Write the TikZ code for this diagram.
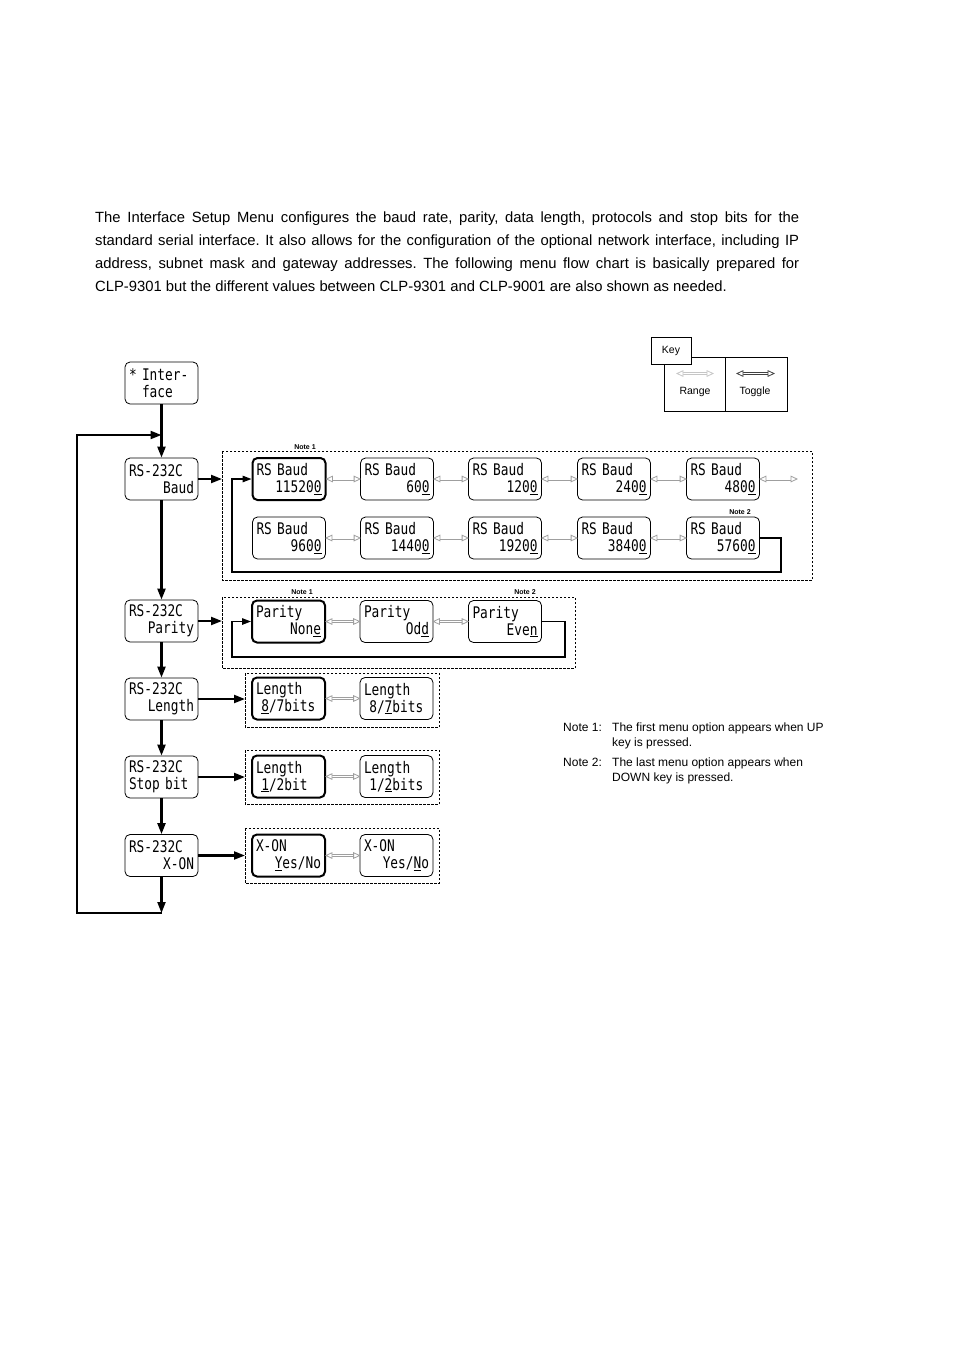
\documentclass[tikz,border=0pt]{standalone}
\usepackage{fontspec}
\setmainfont{Liberation Sans}
\newfontfamily\lcdfont[FakeStretch=0.8]{DejaVu Sans Mono}
\usetikzlibrary{arrows.meta}
\tikzset{
 lcd/.style={draw, rounded corners=5pt, line width=0.8pt, minimum width=73pt, minimum height=42pt,
   text width=65pt, inner xsep=4pt, inner ysep=2pt, align=left, font=\lcdfont\fontsize{16}{17}\selectfont},
 sel/.style={lcd, line width=2pt},
 grp/.style={draw, dash pattern=on 2.5pt off 1.5pt, line width=0.7pt},
 togshaft/.style={line width=0.8pt, double=white, double distance=1.4pt},
 togtip/.style={line width=0.8pt, fill=white, line join=miter},
 flow/.style={line width=2.1pt, -{Triangle[length=11pt,width=8pt]}},
 loopar/.style={line width=1.3pt, -{Triangle[length=9pt,width=6.5pt]}},
 notelbl/.style={font=\bfseries\fontsize{7}{8}\selectfont, inner sep=0pt},
 small/.style={font=\fontsize{12}{14}\selectfont, inner sep=0pt, anchor=base west},
 keytxt/.style={font=\fontsize{10.5}{12}\selectfont, inner sep=0pt},
}
\newcommand{\rt}[1]{\leavevmode\hfill #1}
\newcommand{\togarrow}[3][gray!75]{%
 \draw[togshaft, draw=#1] ([xshift=5.5pt]#2) -- ([xshift=-5.5pt]#3);
 \draw[togtip, draw=#1] (#2) -- ([xshift=6pt,yshift=2.8pt]#2) -- ([xshift=6pt,yshift=-2.8pt]#2) -- cycle;
 \draw[togtip, draw=#1] (#3) -- ([xshift=-6pt,yshift=2.8pt]#3) -- ([xshift=-6pt,yshift=-2.8pt]#3) -- cycle;}
\begin{document}
\begin{tikzpicture}[x=1pt,y=-1pt]
\useasboundingbox (0,0) rectangle (954,1350);
\fill[white] (0,0) rectangle (954,1350);

% paragraph
\node[anchor=north west, inner sep=0pt, text width=704pt, align=justify,
  font=\fontsize{14.8}{23}\selectfont] (para) at (95,212)
 {\frenchspacing The Interface Setup Menu configures the baud rate, parity, data length, protocols and stop bits for the\linebreak
 standard serial interface. It also allows for the configuration of the optional network interface, including IP\linebreak
 address, subnet mask and gateway addresses. The following menu flow chart is basically prepared for\linebreak
 CLP-9301 but the different values between CLP-9301 and CLP-9001 are also shown as needed.};

% key
\draw[line width=0.8pt] (664,357) rectangle (787,411);
\draw[line width=0.8pt] (725,357) -- (725,411);
\node[draw, fill=white, line width=0.8pt, minimum width=40pt, minimum height=27pt, keytxt] (key) at (671,350.5) {Key};
\coordinate (ra1) at (677,373.5); \coordinate (ra2) at (713,373.5);
\coordinate (ta1) at (737,373.5); \coordinate (ta2) at (774,373.5);
\togarrow[gray!45]{ra1}{ra2}
\togarrow[black!75]{ta1}{ta2}
\node[keytxt] (range) at (695,392) {Range};
\node[keytxt] (toggle) at (755,392) {Toggle};

% left column
\node[lcd] (iface) at (161.5,383) {* Inter-\\\phantom{* }face};
\node[lcd] (lb) at (161.5,479) {RS-232C\\\rt{Baud}};
\node[lcd] (lp) at (161.5,621) {RS-232C\\\rt{Parity}};
\node[lcd] (ll) at (161.5,699) {RS-232C\\\rt{Length}};
\node[lcd] (ls) at (161.5,777) {RS-232C\\Stop bit};
\node[lcd] (lx) at (161.5,855.5) {RS-232C\\\rt{X-ON}};

\draw[flow] (iface.south) -- (lb.north);
\draw[flow] (lb.south) -- (lp.north);
\draw[flow] (lp.south) -- (ll.north);
\draw[flow] (ll.south) -- (ls.north);
\draw[flow] (ls.south) -- (lx.north);
\coordinate (bot) at (161.5,913);
\coordinate (botL) at (77,913);
\coordinate (topL) at (77,435);
\coordinate (topR) at (161.5,435);
\draw[flow] (lx.south) -- (bot);
\draw[flow] (bot) -- (botL) -- (topL) -- (topR);

% groups
\draw[grp] (222,451) rectangle (812,580);
\draw[grp] (222,597) rectangle (575,668);
\draw[grp] (245,673) rectangle (439,727);
\draw[grp] (245,750) rectangle (439,804);
\draw[grp] (245,828) rectangle (439,883);

\coordinate (gb) at (222,479);
\coordinate (gp) at (222,621);
\coordinate (gl) at (245,699);
\coordinate (gs) at (245,777);
\coordinate (gx) at (245,855.5);
\draw[flow] (lb.east) -- (gb);
\draw[flow] (lp.east) -- (gp);
\draw[flow] (ll.east) -- (gl);
\draw[flow] (ls.east) -- (gs);
\draw[flow] (lx.east) -- (gx);

% baud
\node[sel] (b1) at (289,479) {RS Baud\\\rt{11520\underline{0}}};
\node[lcd] (b2) at (397,479) {RS Baud\\\rt{60\underline{0}}};
\node[lcd] (b3) at (505,479) {RS Baud\\\rt{120\underline{0}}};
\node[lcd] (b4) at (614,479) {RS Baud\\\rt{240\underline{0}}};
\node[lcd] (b5) at (723,479) {RS Baud\\\rt{480\underline{0}}};
\node[lcd] (b6) at (289,538) {RS Baud\\\rt{960\underline{0}}};
\node[lcd] (b7) at (397,538) {RS Baud\\\rt{1440\underline{0}}};
\node[lcd] (b8) at (505,538) {RS Baud\\\rt{1920\underline{0}}};
\node[lcd] (b9) at (614,538) {RS Baud\\\rt{3840\underline{0}}};
\node[lcd] (b10) at (723,538) {RS Baud\\\rt{5760\underline{0}}};
\node[notelbl] (bn1) at (305,447) {Note 1};
\node[notelbl] (bn2) at (740,512) {Note 2};
\togarrow{b1.east}{b2.west}
\togarrow{b2.east}{b3.west}
\togarrow{b3.east}{b4.west}
\togarrow{b4.east}{b5.west}
\coordinate (bend) at (797,479);
\togarrow{b5.east}{bend}
\togarrow{b6.east}{b7.west}
\togarrow{b7.east}{b8.west}
\togarrow{b8.east}{b9.west}
\togarrow{b9.east}{b10.west}
\coordinate (bl1) at (781,538);
\coordinate (bl2) at (781,572);
\coordinate (bl3) at (232,572);
\coordinate (bl4) at (232,479);
\draw[loopar] (b10.east) -- (bl1) -- (bl2) -- (bl3) -- (bl4) -- (b1.west);

% parity
\node[sel] (p1) at (288.5,621.5) {Parity\\\rt{Non\underline{e}}};
\node[lcd] (p2) at (396.5,621.5) {Parity\\\rt{Od\underline{d}}};
\node[lcd] (p3) at (505,621.5) {Parity\\\rt{Eve\underline{n}}};
\node[notelbl] (pn1) at (302,592) {Note 1};
\node[notelbl] (pn2) at (525,592) {Note 2};
\togarrow{p1.east}{p2.west}
\togarrow{p2.east}{p3.west}
\coordinate (pl1) at (565,621.5);
\coordinate (pl2) at (565,657);
\coordinate (pl3) at (232,657);
\coordinate (pl4) at (232,621.5);
\draw[loopar] (p3.east) -- (pl1) -- (pl2) -- (pl3) -- (pl4) -- (p1.west);

% length
\node[sel] (l1) at (288.5,698.5) {Length\\\ \underline{8}/7bits};
\node[lcd] (l2) at (396.5,698.5) {Length\\\ 8/\underline{7}bits};
\togarrow{l1.east}{l2.west}

% stop bit
\node[sel] (s1) at (288.5,776.5) {Length\\\ \underline{1}/2bit};
\node[lcd] (s2) at (396.5,776.5) {Length\\\ 1/\underline{2}bits};
\togarrow{s1.east}{s2.west}

% x-on
\node[sel] (x1) at (288.5,855.5) {X-ON\\\rt{\underline{Y}es/No}};
\node[lcd] (x2) at (396.5,855.5) {X-ON\\\rt{Yes/\underline{N}o}};
\togarrow{x1.east}{x2.west}

% notes
\node[small] (n1a) at (563,731) {Note 1:};
\node[small] (n1b) at (612,731) {The first menu option appears when UP};
\node[small] (n1c) at (612,746) {key is pressed.};
\node[small] (n2a) at (563,766) {Note 2:};
\node[small] (n2b) at (612,766) {The last menu option appears when};
\node[small] (n2c) at (612,781) {DOWN key is pressed.};
\end{tikzpicture}
\end{document}
